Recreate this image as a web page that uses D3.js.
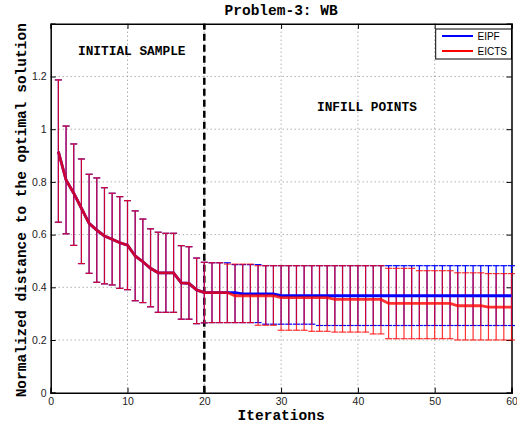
<!DOCTYPE html>
<html>
<head>
<meta charset="utf-8">
<script src="https://cdn.jsdelivr.net/npm/d3@7"></script>
<style>
  body { margin: 0; background: #fff; }
  text { font-family: "Liberation Sans", Arial, sans-serif; }
  .mono { font-family: "Liberation Mono", "Courier New", monospace; font-weight: bold; }
</style>
</head>
<body>
<svg id="graph"></svg>
<script>
const iterations = [1,2,3,4,5,6,7,8,9,10,11,12,13,14,15,16,17,18,19,20,
  21,22,23,24,25,26,27,28,29,30,31,32,33,34,35,36,37,38,39,40,
  41,42,43,44,45,46,47,48,49,50,51,52,53,54,55,56,57,58,59,60];

const eipfMean = [0.915,0.807,0.757,0.700,0.643,0.617,0.595,0.582,0.569,0.560,
  0.519,0.497,0.472,0.455,0.455,0.455,0.417,0.415,0.390,0.380,
  0.380,0.380,0.380,0.380,0.375,0.375,0.375,0.375,0.375,0.368,
  0.368,0.368,0.368,0.368,0.368,0.368,0.368,0.368,0.368,0.368,
  0.368,0.368,0.368,0.368,0.368,0.368,0.368,0.368,0.368,0.368,
  0.368,0.368,0.368,0.368,0.368,0.368,0.368,0.368,0.368,0.368];
const eipfHigh = [1.187,1.012,0.944,0.887,0.829,0.815,0.778,0.757,0.744,0.729,
  0.690,0.659,0.622,0.609,0.605,0.605,0.558,0.554,0.511,0.495,
  0.493,0.493,0.493,0.486,0.486,0.486,0.486,0.482,0.482,0.482,
  0.482,0.482,0.482,0.482,0.482,0.482,0.482,0.482,0.482,0.482,
  0.482,0.482,0.482,0.482,0.482,0.482,0.482,0.482,0.482,0.482,
  0.482,0.482,0.482,0.482,0.482,0.482,0.482,0.482,0.482,0.482];
const eipfLow = [0.647,0.603,0.559,0.490,0.453,0.419,0.413,0.409,0.396,0.391,
  0.349,0.342,0.326,0.305,0.305,0.305,0.279,0.279,0.262,0.265,
  0.266,0.266,0.266,0.266,0.266,0.266,0.266,0.260,0.260,0.260,
  0.260,0.260,0.260,0.260,0.255,0.255,0.255,0.255,0.255,0.255,
  0.255,0.255,0.255,0.255,0.255,0.255,0.255,0.255,0.255,0.255,
  0.255,0.255,0.255,0.255,0.255,0.255,0.255,0.255,0.255,0.255];

const eictsMean = [0.915,0.807,0.757,0.700,0.643,0.617,0.595,0.582,0.569,0.560,
  0.519,0.497,0.472,0.455,0.455,0.455,0.417,0.415,0.390,0.380,
  0.380,0.380,0.380,0.368,0.368,0.368,0.368,0.368,0.368,0.361,
  0.361,0.361,0.361,0.361,0.361,0.361,0.354,0.354,0.354,0.354,
  0.354,0.354,0.354,0.339,0.339,0.339,0.339,0.339,0.339,0.339,
  0.339,0.339,0.330,0.330,0.330,0.330,0.325,0.325,0.325,0.325];
const eictsHigh = [1.187,1.012,0.944,0.887,0.829,0.815,0.778,0.757,0.744,0.729,
  0.690,0.659,0.622,0.609,0.605,0.605,0.558,0.554,0.511,0.495,
  0.493,0.493,0.488,0.488,0.488,0.488,0.482,0.482,0.482,0.482,
  0.482,0.482,0.482,0.482,0.482,0.482,0.482,0.482,0.482,0.482,
  0.482,0.482,0.482,0.472,0.472,0.472,0.472,0.463,0.463,0.463,
  0.463,0.463,0.455,0.455,0.455,0.455,0.452,0.452,0.452,0.452];
const eictsLow = [0.647,0.603,0.559,0.490,0.453,0.419,0.413,0.409,0.396,0.391,
  0.349,0.342,0.326,0.305,0.305,0.305,0.279,0.279,0.262,0.265,
  0.266,0.266,0.266,0.266,0.266,0.266,0.256,0.256,0.256,0.237,
  0.237,0.237,0.237,0.233,0.233,0.233,0.230,0.230,0.230,0.230,
  0.230,0.223,0.223,0.205,0.205,0.205,0.205,0.205,0.205,0.205,
  0.205,0.205,0.200,0.200,0.200,0.200,0.200,0.200,0.200,0.200];

const xTicks = [0, 10, 20, 30, 40, 50, 60];
const yTicks = [0, 0.2, 0.4, 0.6, 0.8, 1, 1.2];
const seriesNames = ["EIPF", "EICTS"];
const splitIteration = 20;

function plot() {
  let width = 517;
  let height = 426;
  let margin = ({top: 23.8, right: 5.5, bottom: 33.3, left: 50.7});

  var x = d3.scaleLinear().domain([0, 60]).range([margin.left, width - margin.right]);
  var y = d3.scaleLinear().domain([0, 1.4]).range([height - margin.bottom, margin.top]);

  let svg = d3.select('#graph')
    .attr('width', width)
    .attr('height', height);

  // dotted grid
  let grid = svg.append("g")
    .attr("stroke", "#8a8a8a")
    .attr("stroke-width", 1)
    .attr("stroke-dasharray", "1,3");
  grid.selectAll(".gx").data(xTicks.slice(1, -1)).join("line")
    .attr("x1", d => x(d)).attr("x2", d => x(d))
    .attr("y1", y(0)).attr("y2", y(1.4));
  grid.selectAll(".gy").data(yTicks.slice(1)).join("line")
    .attr("x1", x(0)).attr("x2", x(60))
    .attr("y1", d => y(d)).attr("y2", d => y(d));

  // axes, MATLAB style ticks pointing inward
  let fmt = d3.format("~g");
  svg.append("g")
    .attr("transform", `translate(0, ${y(0)})`)
    .call(d3.axisBottom(x).tickValues(xTicks).tickSize(-5).tickPadding(5).tickFormat(fmt));
  svg.append("g")
    .attr("transform", `translate(${x(0)}, 0)`)
    .call(d3.axisLeft(y).tickValues(yTicks).tickSize(-5).tickPadding(4).tickFormat(fmt));
  svg.append("g")
    .attr("transform", `translate(0, ${y(1.4)})`)
    .call(d3.axisTop(x).tickValues(xTicks).tickSize(-5).tickFormat(""));
  svg.append("g")
    .attr("transform", `translate(${x(60)}, 0)`)
    .call(d3.axisRight(y).tickValues(yTicks).tickSize(-5).tickFormat(""));
  svg.selectAll(".domain").attr("stroke", "#000").attr("stroke-width", 1.5);
  svg.selectAll(".tick line").attr("stroke", "#000");
  svg.selectAll(".tick text").attr("font-size", 10.5).attr("fill", "#222")
    .attr("font-family", "'Liberation Sans', Arial, sans-serif");

  // dashed split line
  svg.append("line")
    .attr("x1", x(splitIteration)).attr("x2", x(splitIteration))
    .attr("y1", y(0)).attr("y2", y(1.4))
    .attr("stroke", "#000")
    .attr("stroke-width", 2.5)
    .attr("stroke-dasharray", "7,4");

  let capHalf = 3.5;

  function errorBars(mean, low, high, color, opacity) {
    let data = iterations.map((it, i) => ({it: it, mean: mean[i], low: low[i], high: high[i]}));
    let g = svg.append("g")
      .attr("stroke", color)
      .attr("stroke-width", 1.2)
      .attr("stroke-opacity", opacity);
    g.selectAll(".bar").data(data).join("line")
      .attr("x1", d => x(d.it)).attr("x2", d => x(d.it))
      .attr("y1", d => y(d.low)).attr("y2", d => y(d.high));
    g.selectAll(".capHigh").data(data).join("line")
      .attr("x1", d => x(d.it) - capHalf).attr("x2", d => x(d.it) + capHalf)
      .attr("y1", d => y(d.high)).attr("y2", d => y(d.high));
    g.selectAll(".capLow").data(data).join("line")
      .attr("x1", d => x(d.it) - capHalf).attr("x2", d => x(d.it) + capHalf)
      .attr("y1", d => y(d.low)).attr("y2", d => y(d.low));
    return data;
  }

  let line = d3.line()
    .x(d => x(d.it))
    .y(d => y(d.mean));

  let blueData = errorBars(eipfMean, eipfLow, eipfHigh, "#0000ff", 1);
  let redData = errorBars(eictsMean, eictsLow, eictsHigh, "#ff0000", 0.8);

  svg.append("path")
    .datum(blueData)
    .attr("fill", "none")
    .attr("stroke", "#0000ff")
    .attr("stroke-width", 2.8)
    .attr("d", line);
  svg.append("path")
    .datum(redData)
    .attr("fill", "none")
    .attr("stroke", "#ff0000")
    .attr("stroke-opacity", 0.8)
    .attr("stroke-width", 2.8)
    .attr("d", line);

  // annotations
  svg.append("text").attr("class", "mono")
    .attr("x", 78).attr("y", 55)
    .attr("font-size", 12.8)
    .text("INITIAL SAMPLE");
  svg.append("text").attr("class", "mono")
    .attr("x", 317).attr("y", 111)
    .attr("font-size", 12.8)
    .text("INFILL POINTS");

  // legend
  let legend = svg.append("g");
  legend.append("rect")
    .attr("x", 435.7).attr("y", 29)
    .attr("width", x(60) - 435.7).attr("height", 30)
    .attr("fill", "#fff").attr("stroke", "#000").attr("stroke-width", 1);
  let legendColors = ["#0000ff", "#ff0000"];
  seriesNames.forEach((name, i) => {
    legend.append("line")
      .attr("x1", 442).attr("x2", 473)
      .attr("y1", 36 + i * 15).attr("y2", 36 + i * 15)
      .attr("stroke", legendColors[i]).attr("stroke-width", 2);
    legend.append("text")
      .attr("x", 477.5).attr("y", 40 + i * 15)
      .attr("font-size", 10)
      .text(name);
  });

  // titles and axis labels
  svg.append("text").attr("class", "mono")
    .attr("x", (x(0) + x(60)) / 2).attr("y", 15)
    .attr("text-anchor", "middle")
    .attr("font-size", 14.5)
    .text("Problem-3: WB");

  svg.append("text").attr("class", "mono")
    .attr("x", (x(0) + x(60)) / 2).attr("y", 420)
    .attr("text-anchor", "middle")
    .attr("font-size", 14.5)
    .text("Iterations");

  svg.append("text").attr("class", "mono")
    .attr("transform", "rotate(-90)")
    .attr("x", -(y(0) + y(1.4)) / 2 - 2)
    .attr("y", 25.5)
    .attr("text-anchor", "middle")
    .attr("font-size", 14.5)
    .text("Normalized distance to the optimal solution");
}

plot();
</script>
</body>
</html>
